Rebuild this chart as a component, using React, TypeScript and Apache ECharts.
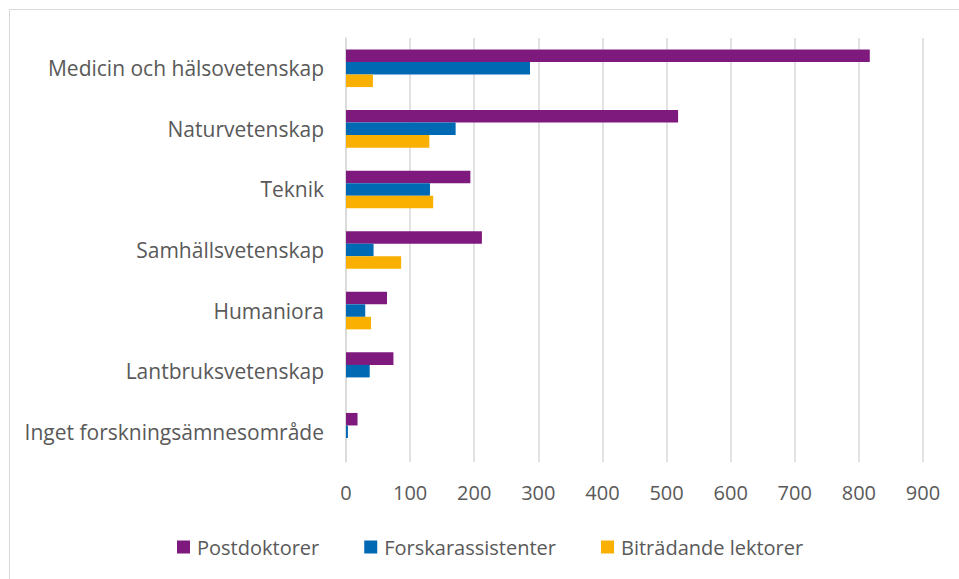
import React, { useEffect, useRef } from "react";
import * as echarts from "echarts";

const categories = [
  "Medicin och hälsovetenskap",
  "Naturvetenskap",
  "Teknik",
  "Samhällsvetenskap",
  "Humaniora",
  "Lantbruksvetenskap",
  "Inget forskningsämnesområde",
];
const postdoktorer = [817, 518, 194, 212, 64, 74, 18];
const forskarassistenter = [287, 171, 131, 43, 30, 37, 3];
const bitradandeLektorer = [42, 130, 136, 86, 39, 0, 0];

const FONT = "Open Sans";
const TEXT = "#595959";

export default function App() {
  const ref = useRef<HTMLDivElement>(null);
  useEffect(() => {
    if (!ref.current) return;
    const chart = echarts.init(ref.current, undefined, { renderer: "svg" });
    const mk = (name: string, data: number[], color: string) => ({
      name,
      type: "bar",
      data,
      itemStyle: { color },
      barGap: "0%",
      barCategoryGap: "38%",
    });
    chart.setOption({
      animation: false,
      textStyle: { fontFamily: FONT, color: TEXT },
      graphic: [
        {
          type: "rect",
          shape: { x: 9.5, y: 9.5, width: 1000, height: 1000 },
          style: { fill: "none", stroke: "#d9d9d9", lineWidth: 1 },
          silent: true,
        },
      ],
      grid: { left: 346, right: 36, top: 38, bottom: 117, containLabel: false },
      legend: {
        left: 172,
        top: 532,
        itemWidth: 13,
        itemHeight: 13,
        itemGap: 45,
        icon: "rect",
        textStyle: { fontFamily: FONT, fontSize: 20, color: TEXT, padding: [0, 0, 0, 2] },
        data: ["Postdoktorer", "Forskarassistenter", "Biträdande lektorer"],
      },
      xAxis: {
        type: "value",
        min: 0,
        max: 900,
        interval: 100,
        axisLine: { show: false },
        axisTick: { show: false },
        splitLine: { lineStyle: { color: "#d9d9d9", width: 1.5 } },
        axisLabel: { fontFamily: FONT, fontSize: 20, color: TEXT, margin: 20 },
      },
      yAxis: {
        type: "category",
        inverse: true,
        data: categories,
        axisLine: { show: true, lineStyle: { color: "#d9d9d9", width: 1.5 } },
        axisTick: { show: false },
        axisLabel: { fontFamily: FONT, fontSize: 21, color: TEXT, margin: 22 },
      },
      series: [
        mk("Postdoktorer", postdoktorer, "#7e1a7e"),
        mk("Forskarassistenter", forskarassistenter, "#0069b4"),
        mk("Biträdande lektorer", bitradandeLektorer, "#f9b000"),
      ],
    });
    return () => chart.dispose();
  }, []);
  return <div ref={ref} style={{ width: 959, height: 579, position: "absolute", left: 0, top: 0 }} />;
}
